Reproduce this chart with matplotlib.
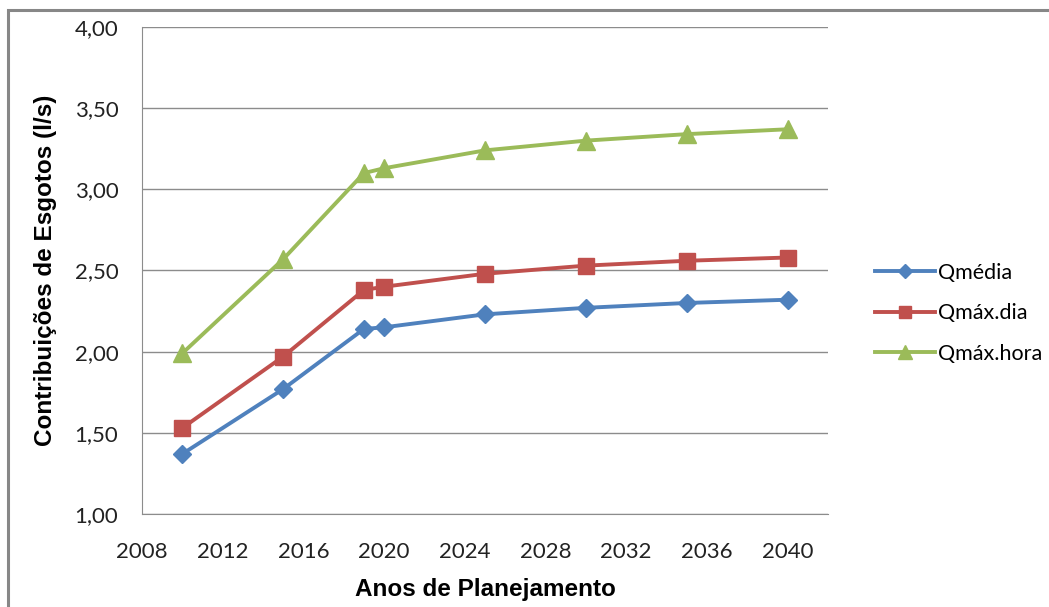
import matplotlib.pyplot as plt
from matplotlib.patches import Rectangle
from matplotlib.ticker import FuncFormatter

anos = [2010, 2015, 2019, 2020, 2025, 2030, 2035, 2040]
q_media = [1.37, 1.77, 2.14, 2.15, 2.23, 2.27, 2.30, 2.32]
q_max_dia = [1.53, 1.97, 2.38, 2.40, 2.48, 2.53, 2.56, 2.58]
q_max_hora = [1.99, 2.57, 3.10, 3.13, 3.24, 3.30, 3.34, 3.37]

fig = plt.figure(figsize=(10.49, 6.07), dpi=100)
fig.patch.set_facecolor('white')

# moldura do gráfico
fig.patches.append(Rectangle((8 / 1049, -0.1), 1.2, 1 - 10 / 607 + 0.1,
                             transform=fig.transFigure, fill=False,
                             edgecolor='#878787', linewidth=2.2))

ax = fig.add_axes([142 / 1049, 1 - 514 / 607, 686 / 1049, 487 / 607])

ax.plot(anos, q_media, color='#4F81BD', lw=2.8, marker='D', ms=9,
        label='Qmédia')
ax.plot(anos, q_max_dia, color='#C0504D', lw=2.8, marker='s', ms=12,
        label='Qmáx.dia')
ax.plot(anos, q_max_hora, color='#9BBB59', lw=2.8, marker='^', ms=13,
        label='Qmáx.hora')

ax.set_xlim(2008, 2042)
ax.set_ylim(1.0, 4.0)
ax.set_xticks(range(2008, 2041, 4))
ax.set_yticks([1.0, 1.5, 2.0, 2.5, 3.0, 3.5, 4.0])
ax.yaxis.set_major_formatter(FuncFormatter(lambda v, p: f'{v:.2f}'.replace('.', ',')))

ax.grid(axis='y', color='#8c8c8c', lw=1)
ax.set_axisbelow(True)
for s in ['top', 'right']:
    ax.spines[s].set_visible(False)
for s in ['left', 'bottom']:
    ax.spines[s].set_color('#8c8c8c')
ax.tick_params(length=0, labelsize=16, labelcolor='#222222')
ax.tick_params(axis='x', pad=20)
ax.tick_params(axis='y', pad=17)
for t in ax.get_xticklabels() + ax.get_yticklabels():
    t.set_family('Lato')

ax.set_xlabel('Anos de Planejamento', fontsize=17.5, fontweight='bold',
              family='Liberation Sans', labelpad=12)
ax.set_ylabel('Contribuições de Esgotos (l/s)', fontsize=17.5, fontweight='bold',
              family='Liberation Sans', labelpad=13)

ax.legend(loc='center left', bbox_to_anchor=(1.04, 0.412), frameon=False,
          prop={'family': 'Lato', 'size': 15.5}, handlelength=2.8,
          handletextpad=0.15, labelspacing=0.95, markerscale=0.75)

fig.savefig('out.png', dpi=100)
